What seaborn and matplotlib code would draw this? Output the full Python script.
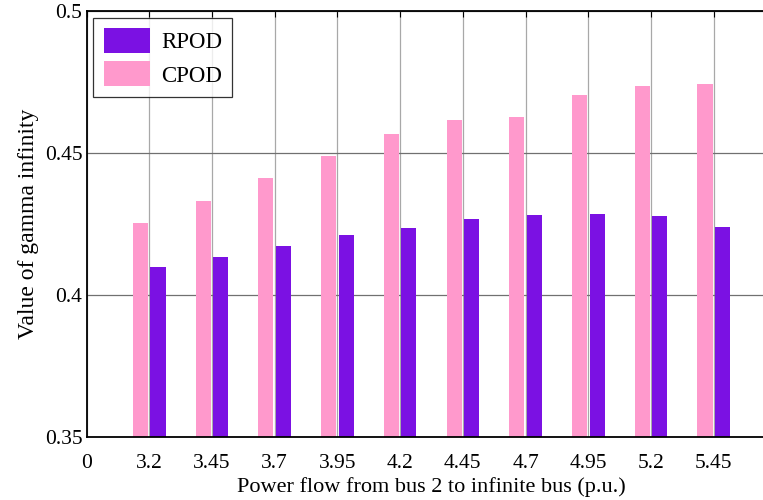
import pandas as pd
import seaborn as sns
import matplotlib.pyplot as plt

# values
power_flow = ['3.2', '3.45', '3.7', '3.95', '4.2', '4.45', '4.7', '4.95', '5.2', '5.45']
rpod = [0.4098, 0.4134, 0.4172, 0.4211, 0.4235, 0.4267, 0.4281, 0.4284, 0.4277, 0.4239]
cpod = [0.4253, 0.4330, 0.4411, 0.4491, 0.4568, 0.4617, 0.4628, 0.4705, 0.4737, 0.4744]

df = pd.DataFrame({
    'flow': power_flow * 2,
    'gamma': cpod + rpod,
    'controller': ['CPOD'] * len(cpod) + ['RPOD'] * len(rpod),
})

sns.set_theme(style='white')
plt.rcParams['font.family'] = ['Liberation Serif', 'DejaVu Serif']
plt.rcParams['text.color'] = 'black'
plt.rcParams['axes.labelcolor'] = 'black'

fig = plt.figure(figsize=(7.63, 5.0), dpi=100)
ax = fig.add_axes([86.5 / 763, 63 / 500, 690 / 763, 426 / 500])

sns.barplot(data=df, x='flow', y='gamma', hue='controller',
            order=['0'] + power_flow, hue_order=['CPOD', 'RPOD'],
            palette={'CPOD': '#FF99CC', 'RPOD': '#7B11E3'},
            width=0.56, gap=0.14, saturation=1, linewidth=0, ax=ax)

ax.set_xlim(0, 11)
ax.set_ylim(0.35, 0.5)
ax.set_yticks([0.35, 0.4, 0.45, 0.5])
ax.set_yticklabels(['0.35', '0.4', '0.45', '0.5'])

ax.set_axisbelow(True)
ax.xaxis.grid(True, color='#a8a8a8', lw=0.9)
ax.yaxis.grid(True, color='#707070', lw=0.9)

for s in ax.spines.values():
    s.set_color('black')
    s.set_linewidth(1.3)

ax.tick_params(direction='in', top=True, right=True, length=4, width=0.8,
               labelsize=15.5, colors='black')
ax.tick_params(axis='x', pad=12)
ax.tick_params(axis='y', pad=3)
ax.set_xlabel('Power flow from bus 2 to infinite bus (p.u.)', fontsize=16, labelpad=3)
ax.set_ylabel('Value of gamma infinity', fontsize=17, labelpad=4)

handles, labels = ax.get_legend_handles_labels()
leg = ax.legend(handles[::-1], labels[::-1], loc='upper left',
                bbox_to_anchor=(0.0, 1.0), borderaxespad=0.3, fontsize=16.5,
                handlelength=2.0, handleheight=1.3, handletextpad=0.5,
                borderpad=0.45, labelspacing=0.35, frameon=True, fancybox=False)
leg.get_frame().set_edgecolor('black')
leg.get_frame().set_linewidth(0.9)

fig.savefig('out.png', dpi=100)
